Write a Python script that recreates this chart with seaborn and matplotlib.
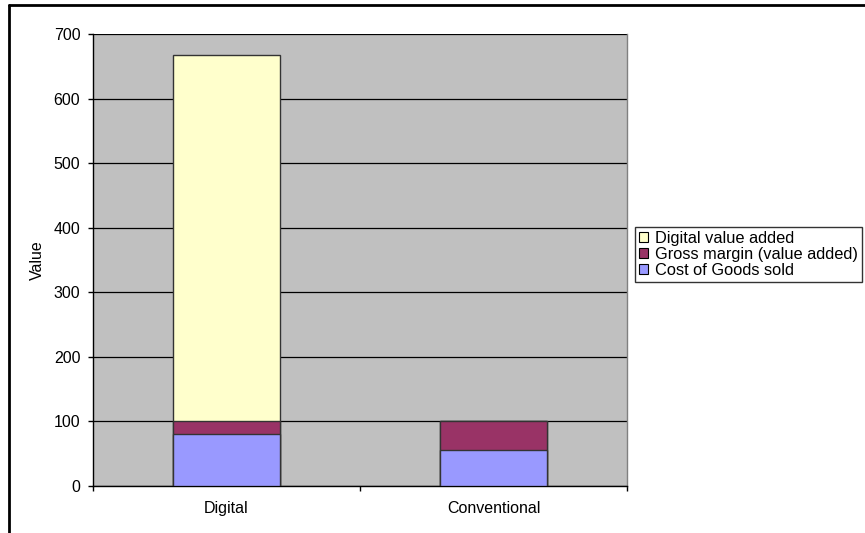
import matplotlib
matplotlib.use("Agg")
import matplotlib.pyplot as plt
from matplotlib.lines import Line2D
from matplotlib.patches import Patch
import numpy as np
import pandas as pd
import seaborn as sns

categories = ["Digital", "Conventional"]
cost_of_goods = [80, 55]
gross_margin = [20, 45]
digital_value_added = [567, 0]

series_names = ["Digital value added", "Gross margin (value added)", "Cost of Goods sold"]
series_colors = ["#FFFFCC", "#993366", "#9999FF"]

y_ticks = [0, 100, 200, 300, 400, 500, 600, 700]

FS = 11.5

sns.set_theme(style="white")
plt.rcParams["font.family"] = ["Liberation Sans", "DejaVu Sans"]
plt.rcParams["text.color"] = "black"

df = pd.DataFrame({
    "category": categories,
    "cogs": cost_of_goods,
    "margin": gross_margin,
    "digital": digital_value_added,
})
# Cumulative tops for a stacked look (draw tallest first, overlay shorter ones)
df["top_margin"] = df["cogs"] + df["margin"]
df["top_digital"] = df["top_margin"] + df["digital"]

fig = plt.figure(figsize=(8.65, 5.33), dpi=100)
ax = fig.add_axes([93 / 865, 1 - 486 / 533, (627 - 93) / 865, (486 - 34) / 533])
ax.set_facecolor("#C0C0C0")

for col, color in zip(["top_digital", "top_margin", "cogs"], series_colors):
    sns.barplot(data=df, x="category", y=col, color=color, width=0.4,
                edgecolor="#333333", linewidth=1.0, saturation=1, ax=ax, zorder=3)

ax.set_xlim(-0.5, 1.5)
ax.set_ylim(0, 700)
ax.set_yticks(y_ticks)
ax.set_yticklabels([str(t) for t in y_ticks], fontsize=FS, color="black")
ax.yaxis.grid(True, color="black", linewidth=0.9, zorder=0)
ax.set_axisbelow(True)

ax.set_xticks([0, 1])
ax.set_xticklabels(categories, fontsize=FS, color="black")
ax.set_xticks([-0.5, 0.5, 1.5], minor=True)
ax.tick_params(axis="x", which="major", length=0, pad=11)
ax.tick_params(axis="x", which="minor", length=3.6, width=1, color="black", direction="out", bottom=True)
ax.tick_params(axis="y", which="major", length=3.6, width=1, color="black", direction="out", left=True, pad=5.5)

ax.set_xlabel("")
ax.set_ylabel("Value", fontsize=FS, color="black", labelpad=6)

for side in ["left", "bottom"]:
    ax.spines[side].set_visible(True)
    ax.spines[side].set_color("black")
    ax.spines[side].set_linewidth(1.0)
ax.spines["top"].set_visible(False)
ax.spines["right"].set_color("#808080")
ax.spines["right"].set_linewidth(1.0)

handles = [Patch(facecolor=c, edgecolor="black", linewidth=0.8) for c in series_colors]
leg = fig.legend(handles, series_names, loc="upper left",
                 bbox_to_anchor=(635 / 865, 1 - 227 / 533), fontsize=11.8,
                 frameon=True, fancybox=False, edgecolor="black",
                 handlelength=0.55, handleheight=0.55, handletextpad=0.4,
                 labelspacing=0.05, borderpad=0.25, borderaxespad=0)
leg.get_frame().set_linewidth(1.0)
for t in leg.get_texts():
    t.set_color("black")

# Frame lines along the top and left of the figure
fig.add_artist(Line2D([9 / 865, 1], [1 - 5 / 533, 1 - 5 / 533], color="black", linewidth=2,
                      transform=fig.transFigure))
fig.add_artist(Line2D([9 / 865, 9 / 865], [0, 1 - 5 / 533], color="black", linewidth=2,
                      transform=fig.transFigure))

fig.savefig("out.png", dpi=100, facecolor="white")
